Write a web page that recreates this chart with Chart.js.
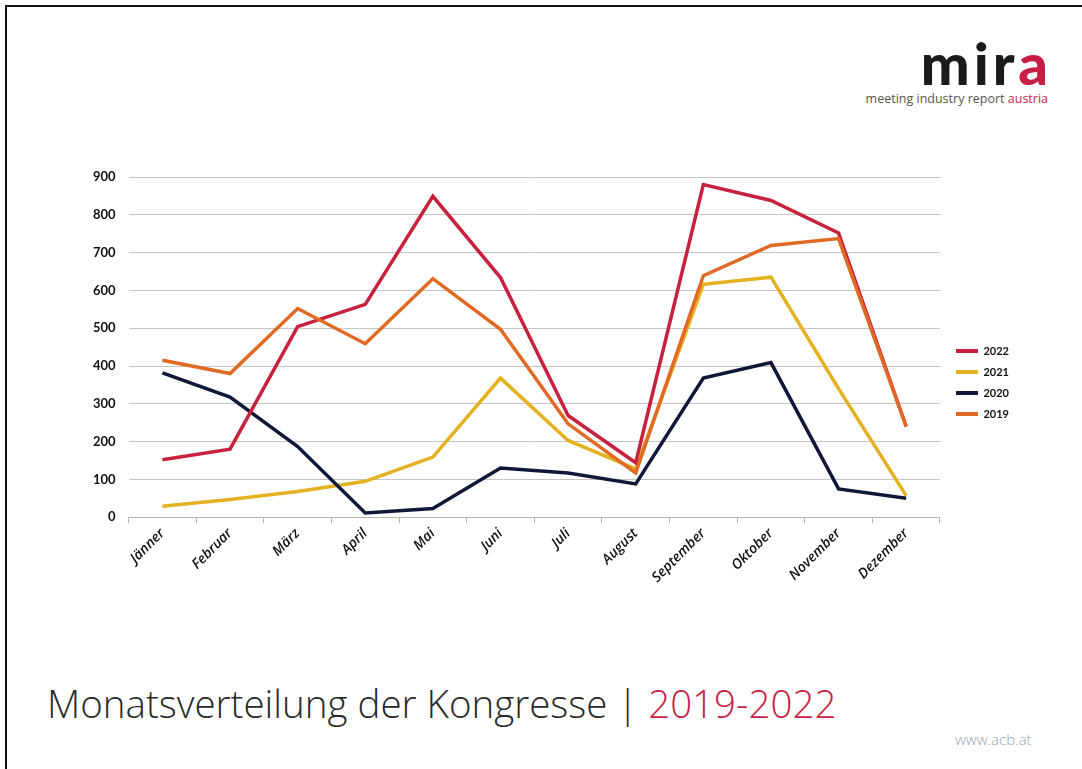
<!DOCTYPE html>
<html>
<head>
<meta charset="utf-8">
<script src="https://cdn.jsdelivr.net/npm/chart.js@4.4.1/dist/chart.umd.min.js"></script>
<style>
    html, body { margin: 0; padding: 0; background: #fff; }
    body { width: 1082px; height: 769px; position: relative; overflow: hidden; font-family: "Open Sans", sans-serif; }
    .frame { position: absolute; left: 5px; top: 5px; right: -10px; bottom: -10px; border-top: 2px solid #111; border-left: 2px solid #111; }
    .logo { position: absolute; right: 34px; top: 34px; text-align: right; }
    .logo .word { font-family: "Lato", sans-serif; font-weight: 900; font-size: 58px; line-height: 58px; color: #1b1b1b; letter-spacing: 4px; margin-right: -4px; }
    .logo .word span { color: #c81e45; }
    .logo .sub { font-family: "Open Sans", sans-serif; font-size: 12.5px; color: #555; margin-top: -2px; }
    .logo .sub span { color: #c81e45; }
    .chart-box { position: absolute; left: 0; top: 150px; width: 1030px; height: 460px; }
    .title { position: absolute; left: 47px; top: 677px; font-family: "Open Sans", sans-serif; font-weight: 300; font-size: 38.5px; color: #2a2a2a; white-space: nowrap; }
    .title span { color: #c81e45; }
    .url { position: absolute; left: 955px; top: 729px; font-family: "Open Sans", sans-serif; font-weight: 300; font-size: 15px; color: #9aa3ad; }
</style>
</head>
<body>
<div class="frame"></div>
<div class="logo">
    <div class="word">mir<span>a</span></div>
    <div class="sub">meeting industry report <span>austria</span></div>
</div>
<div class="chart-box"><canvas id="chart"></canvas></div>
<div class="title">Monatsverteilung der Kongresse | <span>2019-2022</span></div>
<div class="url">www.acb.at</div>

<script>
const months = ['Jänner', 'Februar', 'März', 'April', 'Mai', 'Juni', 'Juli', 'August', 'September', 'Oktober', 'November', 'Dezember'];

const values2022 = [152, 180, 504, 563, 849, 634, 269, 144, 880, 838, 752, 240];
const values2021 = [29, 47, 68, 95, 159, 368, 203, 128, 616, 635, 340, 57];
const values2020 = [382, 318, 187, 11, 23, 130, 117, 88, 368, 409, 75, 50];
const values2019 = [415, 380, 552, 459, 631, 497, 247, 117, 639, 719, 737, 240];

const yTicks = [0, 100, 200, 300, 400, 500, 600, 700, 800, 900];

function line(label, data, color, order) {
    return {
        label: label,
        data: data,
        borderColor: color,
        backgroundColor: color,
        borderWidth: 3.5,
        pointRadius: 0,
        tension: 0,
        order: order
    };
}

// nudge the legend a little away from the plot, as in the original
const legendShift = {
    id: 'legendShift',
    afterLayout(chart) {
        if (chart.legend) {
            chart.legend.left += 6;
            chart.legend.right += 6;
        }
    }
};

new Chart(document.getElementById('chart'), {
    type: 'line',
    data: {
        labels: months,
        datasets: [
            line('2022', values2022, '#c8203f', 1),
            line('2021', values2021, '#e6b121', 3),
            line('2020', values2020, '#0f1838', 2),
            line('2019', values2019, '#e06a24', 0)
        ]
    },
    plugins: [legendShift],
    options: {
        responsive: true,
        maintainAspectRatio: false,
        animation: false,
        layout: { padding: { left: 80, top: 27, right: 17, bottom: 22 } },
        plugins: {
            tooltip: { enabled: false },
            legend: {
                position: 'right',
                labels: {
                    boxWidth: 22,
                    boxHeight: 4,
                    padding: 10,
                    color: '#111',
                    font: { family: 'Lato', weight: 'bold', size: 11 },
                    sort: (a, b) => a.datasetIndex - b.datasetIndex,
                    generateLabels: (chart) => Chart.defaults.plugins.legend.labels.generateLabels(chart)
                        .map(item => Object.assign(item, { lineWidth: 0 }))
                }
            }
        },
        scales: {
            x: {
                offset: true,
                grid: { offset: true, drawOnChartArea: false, drawTicks: true, tickLength: 6, color: '#b5b5b5' },
                border: { color: '#b5b5b5', width: 1 },
                ticks: {
                    minRotation: 45,
                    maxRotation: 45,
                    padding: 2,
                    color: '#111',
                    font: { family: 'Open Sans', style: 'italic', weight: '600', size: 14 }
                }
            },
            y: {
                min: 0,
                max: 900,
                afterBuildTicks: (scale) => { scale.ticks = yTicks.map(v => ({ value: v })); },
                grid: { color: '#c4c4c4', lineWidth: 1, drawTicks: false },
                border: { display: false },
                ticks: {
                    padding: 13,
                    color: '#111',
                    font: { family: 'Lato', weight: 'bold', size: 13 }
                }
            }
        }
    }
});
</script>
</body>
</html>
